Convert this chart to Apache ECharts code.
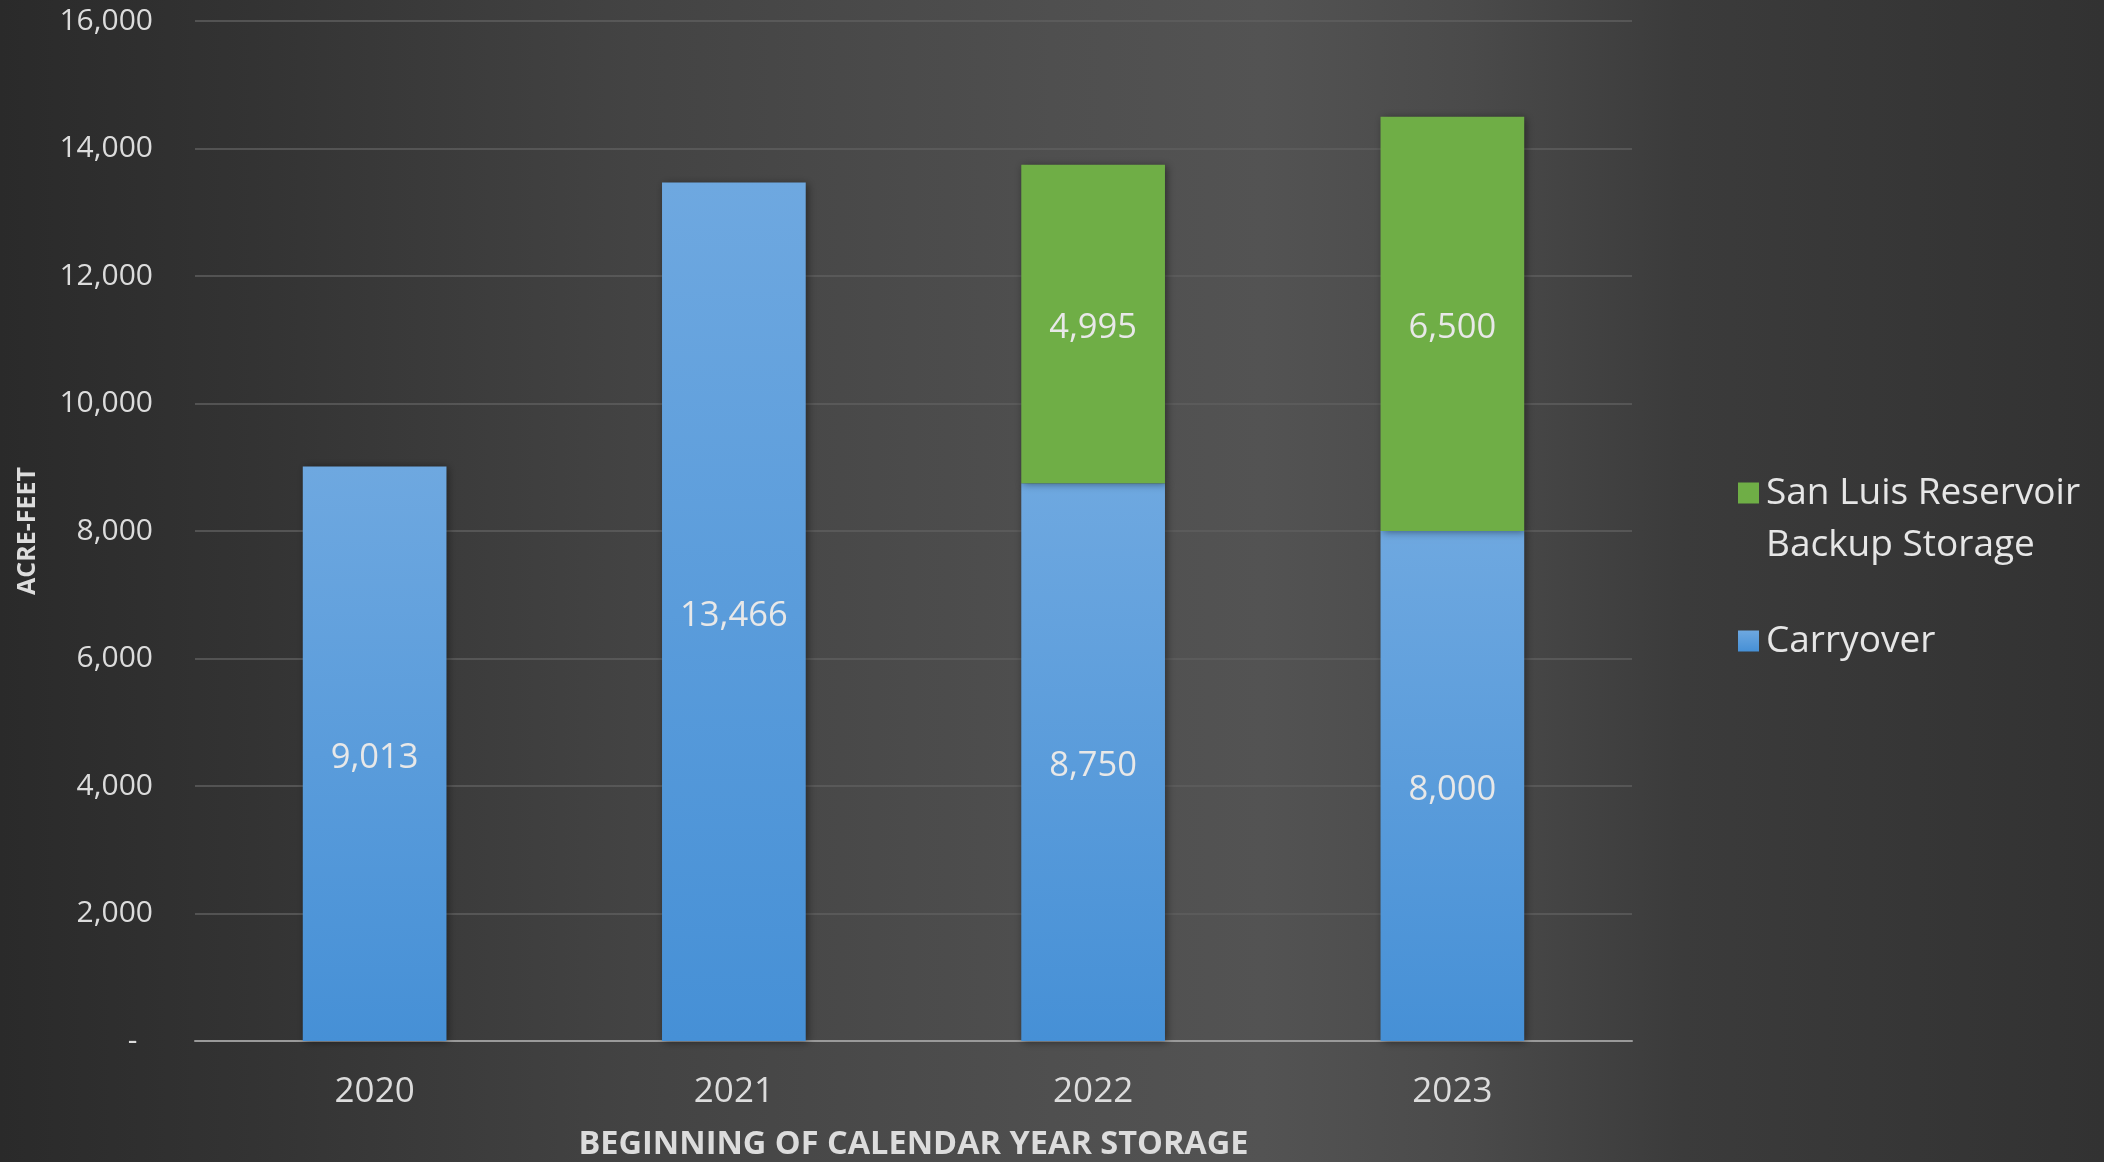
<!DOCTYPE html>
<html>
<head>
<meta charset="utf-8">
<script src="https://cdn.jsdelivr.net/npm/echarts@6/dist/echarts.min.js"></script>
<style>
html,body{margin:0;padding:0;width:2104px;height:1162px;overflow:hidden;background:#2b2b2b;}
#c{width:2104px;height:1162px;}
</style>
</head>
<body>
<div id="c"></div>
<script>
const categories = ['2020', '2021', '2022', '2023'];
const carryover = [9013, 13466, 8750, 8000];
const backup = [null, null, 4995, 6500];
const yMin = 0, yMax = 16000, yInterval = 2000;
const seriesNames = ['Carryover', 'San Luis Reservoir\nBackup Storage'];
const xTitle = 'BEGINNING OF CALENDAR YEAR STORAGE';
const yTitle = 'ACRE-FEET';

const fmt = v => Number(v).toLocaleString('en-US');
const FONT = '"Open Sans", sans-serif';

const chart = echarts.init(document.getElementById('c'));
chart.setOption({
  backgroundColor: {
    type: 'linear', x: 0, y: 0, x2: 1, y2: 0,
    colorStops: [
      { offset: 0, color: '#2a2a2a' },
      { offset: 0.12, color: '#333333' },
      { offset: 0.3, color: '#434343' },
      { offset: 0.5, color: '#4f4f4f' },
      { offset: 0.6, color: '#535353' },
      { offset: 0.7, color: '#4a4a4a' },
      { offset: 0.8, color: '#3b3b3b' },
      { offset: 1, color: '#323232' }
    ]
  },
  textStyle: { fontFamily: FONT },
  grid: { left: 195, right: 472, top: 21, bottom: 121, containLabel: false, outerBoundsMode: 'none' },
  legend: {
    orient: 'vertical',
    left: 1733,
    top: 410,
    itemGap: 44,
    itemWidth: 21,
    itemHeight: 21,
    icon: 'rect',
    data: [seriesNames[1], seriesNames[0]],
    formatter: name => name.indexOf('\n') >= 0 ? '\n' + name : name,
    textStyle: { color: '#e6e6e6', fontSize: 37, lineHeight: 52, fontFamily: FONT, padding: [0, 0, 0, 2] }
  },
  xAxis: {
    type: 'category',
    data: categories,
    name: xTitle,
    nameLocation: 'middle',
    nameGap: 87,
    nameTextStyle: { color: '#dcdcdc', fontSize: 32.5, fontWeight: 'bold', fontFamily: FONT },
    axisLine: { show: true, lineStyle: { color: '#9a9a9a', width: 2 } },
    axisTick: { show: false },
    axisLabel: { color: '#dcdcdc', fontSize: 35, margin: 34, fontFamily: FONT },
    splitLine: { show: false }
  },
  yAxis: {
    type: 'value',
    min: yMin, max: yMax, interval: yInterval,
    name: yTitle,
    nameLocation: 'middle',
    nameGap: 155,
    nameRotate: 90,
    nameTextStyle: { color: '#dcdcdc', fontSize: 25, fontWeight: 'bold', fontFamily: FONT },
    axisLine: { show: false },
    axisTick: { show: false },
    axisLabel: {
      color: '#dcdcdc', fontSize: 30, margin: 42, fontFamily: FONT,
      formatter: v => v === 0 ? '-  ' : fmt(v)
    },
    splitLine: { show: true, lineStyle: { color: '#5f5f5f', width: 1.5 } }
  },
  series: [
    {
      name: seriesNames[0],
      type: 'bar',
      stack: 'total',
      data: carryover,
      barWidth: '40%',
      itemStyle: {
        color: {
          type: 'linear', x: 0, y: 0, x2: 0, y2: 1,
          colorStops: [{ offset: 0, color: '#6ea8e0' }, { offset: 1, color: '#4690d6' }]
        },
        shadowBlur: 8, shadowColor: 'rgba(0,0,0,0.45)', shadowOffsetX: 2, shadowOffsetY: 1
      },
      label: {
        show: true, position: 'inside', color: '#e8e8e8', fontSize: 34.5, fontFamily: FONT,
        offset: [0, 4],
        formatter: p => fmt(p.value)
      }
    },
    {
      name: seriesNames[1],
      type: 'bar',
      stack: 'total',
      data: backup,
      barWidth: '40%',
      itemStyle: {
        color: '#6fae46',
        shadowBlur: 8, shadowColor: 'rgba(0,0,0,0.45)', shadowOffsetX: 2, shadowOffsetY: 1
      },
      label: {
        show: true, position: 'inside', color: '#e8e8e8', fontSize: 34.5, fontFamily: FONT,
        offset: [0, 4],
        formatter: p => p.value == null ? '' : fmt(p.value)
      }
    }
  ]
});
</script>
</body>
</html>
